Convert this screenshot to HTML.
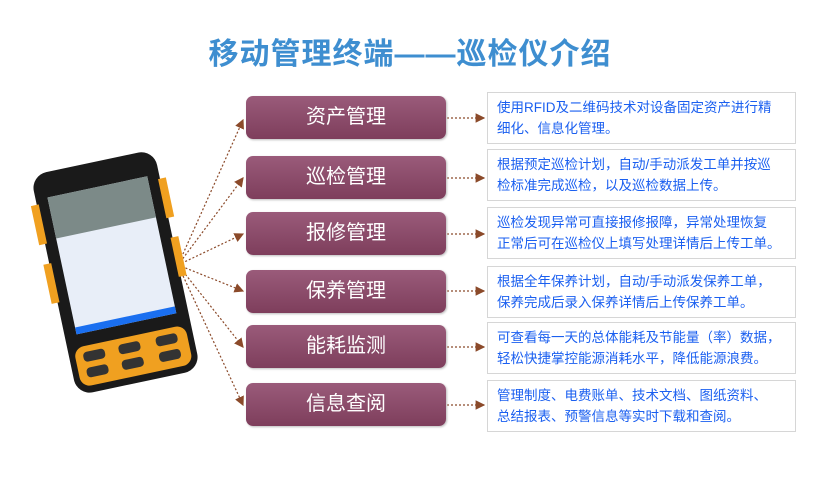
<!DOCTYPE html>
<html><head><meta charset="utf-8"><style>
body{margin:0;width:820px;height:483px;background:#fff;position:relative;overflow:hidden;font-family:"Liberation Sans","Noto Sans CJK SC",sans-serif}
.t{position:absolute;left:0;width:820px;top:29px;text-align:center;font-size:30px;font-weight:bold;color:#3e8ed0;letter-spacing:1px}
.p{position:absolute;left:246px;width:200px;height:43px;border-radius:7px;background:linear-gradient(#9a5b7a,#7e3e5c);color:#fff;font-size:20px;text-align:center;line-height:43px;box-shadow:1px 1px 2px #bbb}
.b{position:absolute;left:487px;width:298px;border:1px solid #d6d6d6;padding:4px 0 4px 9px;color:#1a5ff0;font-size:13.5px;line-height:21px;white-space:nowrap}
</style></head><body>
<div class="t">移动管理终端——巡检仪介绍</div>
<svg width="820" height="483" style="position:absolute;left:0;top:0">
<defs><marker id="a" markerWidth="8" markerHeight="8" refX="7" refY="4" orient="auto"><path d="M0,0 L8,4 L0,8z" fill="#8b4a2a"/></marker></defs>
<g stroke="#8b4a2a" stroke-width="1.2" stroke-dasharray="2,2" fill="none" marker-end="url(#a)">
<line x1="178" y1="265" x2="243" y2="120"/><line x1="178" y1="265" x2="243" y2="178"/><line x1="178" y1="265" x2="243" y2="234"/><line x1="178" y1="265" x2="243" y2="291"/><line x1="178" y1="265" x2="243" y2="347"/><line x1="178" y1="265" x2="243" y2="405"/>
<line x1="447" y1="118" x2="484" y2="118"/><line x1="447" y1="178" x2="484" y2="178"/><line x1="447" y1="234" x2="484" y2="234"/><line x1="447" y1="291" x2="484" y2="291"/><line x1="447" y1="347" x2="484" y2="347"/><line x1="447" y1="405" x2="484" y2="405"/>
</g>
<g transform="rotate(-12 115 270)">
<rect x="52" y="160" width="126" height="225" rx="16" fill="#1a1a1a"/>
<rect x="46" y="190" width="8" height="40" fill="#f0a020"/><rect x="46" y="250" width="8" height="40" fill="#f0a020"/>
<rect x="176" y="190" width="8" height="40" fill="#f0a020"/><rect x="176" y="250" width="8" height="40" fill="#f0a020"/>
<rect x="64" y="185" width="102" height="140" fill="#e8eef8"/>
<rect x="64" y="185" width="102" height="42" fill="#7c8a88"/>
<rect x="64" y="318" width="102" height="7" fill="#1a6ff0"/>
<rect x="58" y="338" width="114" height="40" rx="10" fill="#f0a020"/>
<g fill="#333"><rect x="66" y="344" width="22" height="10" rx="4"/><rect x="102" y="344" width="22" height="10" rx="4"/><rect x="140" y="344" width="22" height="10" rx="4"/><rect x="66" y="360" width="22" height="10" rx="4"/><rect x="102" y="360" width="22" height="10" rx="4"/><rect x="140" y="360" width="22" height="10" rx="4"/></g>
</g>
</svg>
<div class="p" style="top:96px">资产管理</div>
<div class="p" style="top:156px">巡检管理</div>
<div class="p" style="top:212px">报修管理</div>
<div class="p" style="top:270px">保养管理</div>
<div class="p" style="top:325px">能耗监测</div>
<div class="p" style="top:383px">信息查阅</div>
<div class="b" style="top:92px">使用RFID及二维码技术对设备固定资产进行精<br>细化、信息化管理。</div>
<div class="b" style="top:149px">根据预定巡检计划，自动/手动派发工单并按巡<br>检标准完成巡检，以及巡检数据上传。</div>
<div class="b" style="top:207px">巡检发现异常可直接报修报障，异常处理恢复<br>正常后可在巡检仪上填写处理详情后上传工单。</div>
<div class="b" style="top:266px">根据全年保养计划，自动/手动派发保养工单，<br>保养完成后录入保养详情后上传保养工单。</div>
<div class="b" style="top:322px">可查看每一天的总体能耗及节能量（率）数据，<br>轻松快捷掌控能源消耗水平，降低能源浪费。</div>
<div class="b" style="top:380px">管理制度、电费账单、技术文档、图纸资料、<br>总结报表、预警信息等实时下载和查阅。</div>
</body></html>
